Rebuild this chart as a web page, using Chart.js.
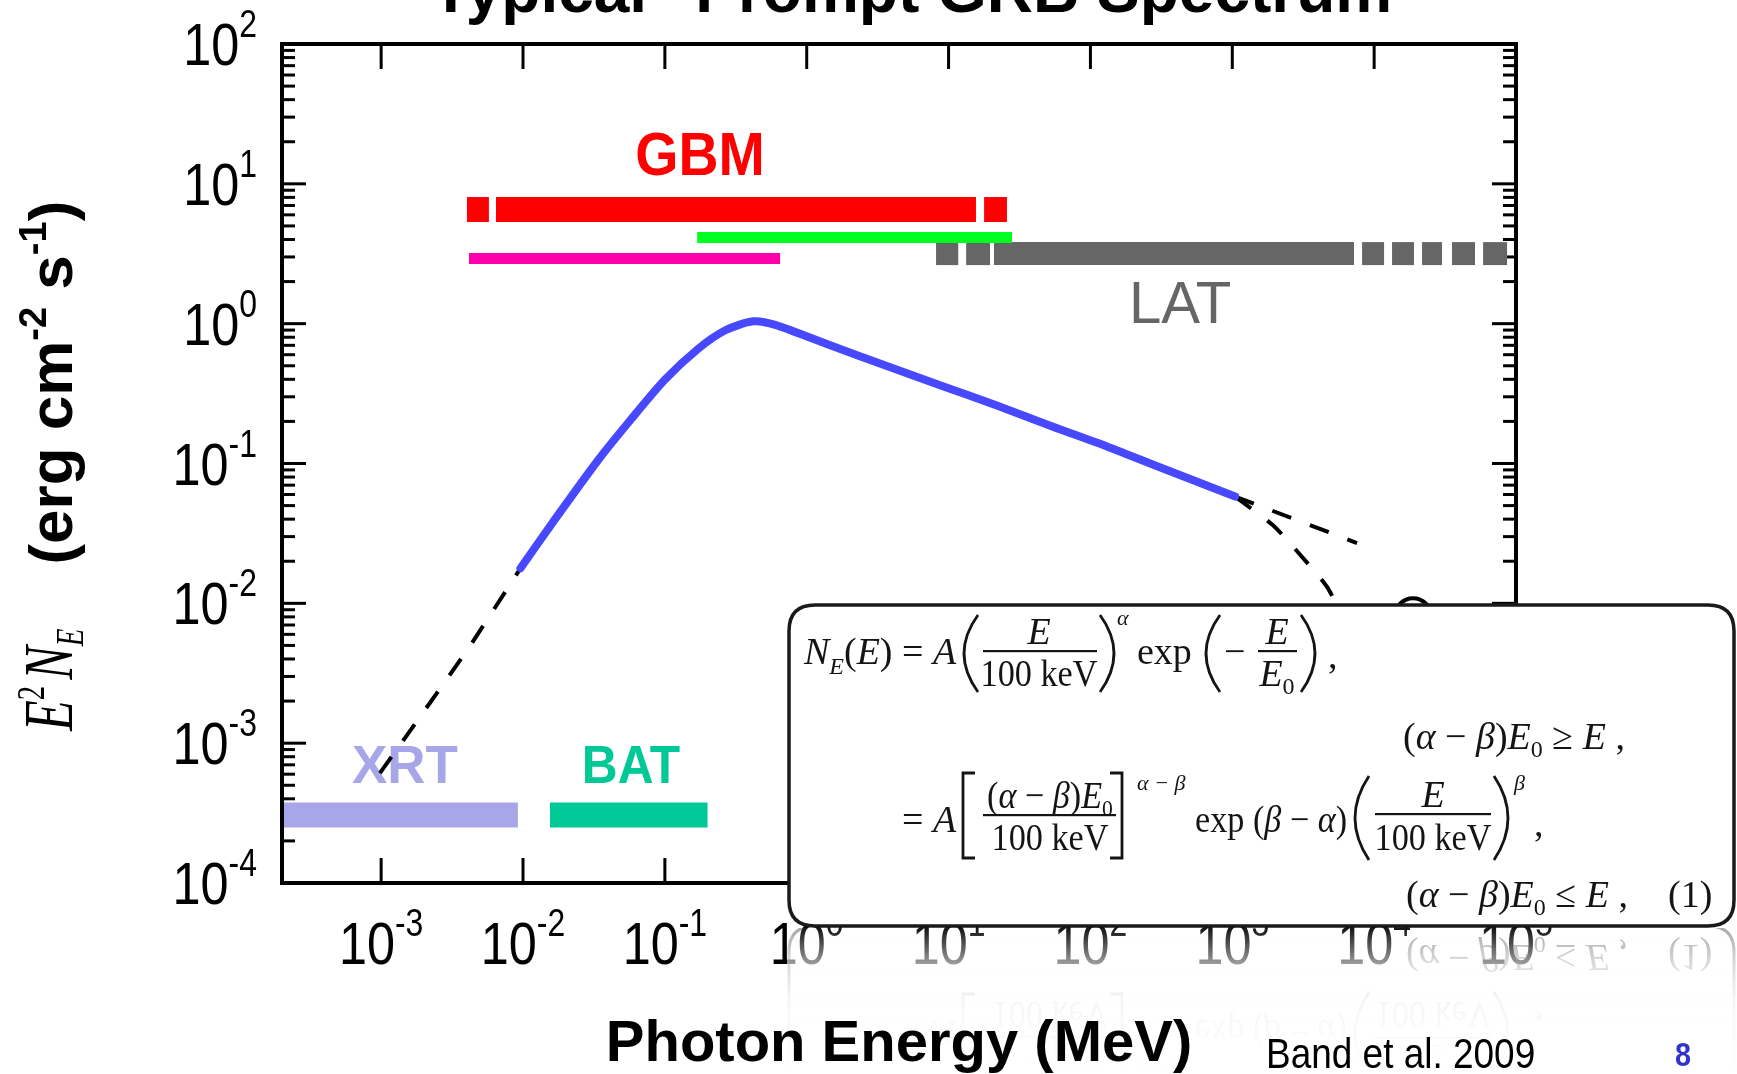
<!DOCTYPE html>
<html>
<head>
<meta charset="utf-8">
<title>Typical Prompt GRB Spectrum</title>
<script src="https://cdn.jsdelivr.net/npm/chart.js@4.4.1/dist/chart.umd.min.js"></script>
<style>
  html, body { margin: 0; padding: 0; background: #fff; overflow: hidden; }
  canvas { display: block; }
</style>
</head>
<body>
<canvas id="spectrum" width="1737" height="1074" style="width:1737px;height:1074px"></canvas>
<script>
// ---- Band-function spectrum: E^2 N_E (erg cm^-2 s^-1) vs photon energy (MeV)
const bandEnergy = [0.0096, 0.0165, 0.0339, 0.058, 0.0995, 0.171, 0.267, 0.419, 0.60, 1.48, 3.63, 8.9, 21.9, 53.8, 132, 325, 1047];
const bandFlux   = [0.0178, 0.0389, 0.106, 0.208, 0.395, 0.659, 0.897, 1.04, 0.98, 0.697, 0.50, 0.36, 0.26, 0.184, 0.132, 0.092, 0.058];

// dashed extrapolations beyond the measured band
const lowExtEnergy    = [0.00098, 0.00403, 0.0096];
const lowExtFlux      = [0.00061, 0.00462, 0.0178];
const powerExtEnergy  = [1047, 7570];
const powerExtFlux    = [0.058, 0.027];
const cutoffExtEnergy = [1047, 1937, 2904, 4656, 6300];
const cutoffExtFlux   = [0.058, 0.0362, 0.0232, 0.0131, 0.0072];
const markerEnergy    = [18800];
const markerFlux      = [0.0081];

// instrument energy coverage (MeV) and the flux level each band is drawn at
const gbmRanges = [[0.00403, 0.00575], [0.00645, 15.6], [17.8, 25.8]];
const gbmLevel  = 6.55;
const bgoRanges = [[0.169, 28.0]];
const bgoLevel  = 4.13;
const naiRanges = [[0.00416, 0.649]];
const naiLevel  = 2.93;
const latRanges = [[8.16, 11.7], [13.3, 19.6], [20.9, 7210], [8220, 11750], [13370, 19100], [21770, 30100], [35400, 51400], [58600, 86500]];
const latLevel  = 3.17;
const xrtRanges = [[2e-4, 0.0092]];
const xrtLevel  = 3.06e-4;
const batRanges = [[0.0155, 0.2]];
const batLevel  = 3.06e-4;

// axis decades
const xTickExponents = [-3, -2, -1, 0, 1, 2, 3, 4, 5];
const yTickExponents = [2, 1, 0, -1, -2, -3, -4];

// ---- helpers ---------------------------------------------------------
const pts = (xs, ys) => xs.map((x, i) => ({ x, y: ys[i] }));

function bandSets(ranges, level, color, width) {
  return ranges.map(r => ({
    data: [{ x: r[0], y: level }, { x: r[1], y: level }],
    borderColor: color, borderWidth: width, borderCapStyle: 'butt',
    pointRadius: 0, fill: false, tension: 0
  }));
}
function dashed(xs, ys) {
  return {
    data: pts(xs, ys), borderColor: '#000', borderWidth: 4, borderDash: [20, 20],
    borderCapStyle: 'butt', pointRadius: 0, fill: false, tension: 0.2
  };
}

// text piece: text, font, vertical shift, horizontal squeeze, extra advance
const P = (t, f, dy = 0, sx = 1, gap = 0) => ({ t, f, dy, sx, gap });

function runText(ctx, pieces, x, y, align = 'left') {
  let total = 0;
  for (const p of pieces) { ctx.font = p.f; total += ctx.measureText(p.t).width * p.sx + p.gap; }
  let cx = align === 'center' ? x - total / 2 : align === 'right' ? x - total : x;
  ctx.textAlign = 'left'; ctx.textBaseline = 'alphabetic';
  for (const p of pieces) {
    ctx.font = p.f;
    const w = ctx.measureText(p.t).width * p.sx;
    ctx.save(); ctx.translate(cx, y + p.dy); ctx.scale(p.sx, 1); ctx.fillText(p.t, 0, 0); ctx.restore();
    cx += w + p.gap;
  }
  return total;
}

const SANS = '"Liberation Sans", Arial, Helvetica, sans-serif';
const SERIF = '"Liberation Serif", "Times New Roman", serif';

function powerLabel(ctx, exp, x, y, align) {
  const base = P('10', '400 60px ' + SANS, 0, 0.84);
  const sup = P(String(exp), '400 38px ' + SANS, -28, 0.84);
  return runText(ctx, [base, sup], x, y, align);
}

// ---- equation panel --------------------------------------------------
const R = '38px ' + SERIF, I = 'italic 38px ' + SERIF, SUB = '24px ' + SERIF, SUP = 'italic 22px ' + SERIF;
const BOX = { x: 789, y: 605, w: 945, h: 321, r: 26 };

function boxPath(ctx) {
  const { x, y, w, h, r } = BOX;
  ctx.beginPath();
  ctx.moveTo(x + r, y); ctx.lineTo(x + w - r, y); ctx.quadraticCurveTo(x + w, y, x + w, y + r);
  ctx.lineTo(x + w, y + h - r); ctx.quadraticCurveTo(x + w, y + h, x + w - r, y + h);
  ctx.lineTo(x + r, y + h); ctx.quadraticCurveTo(x, y + h, x, y + h - r);
  ctx.lineTo(x, y + r); ctx.quadraticCurveTo(x, y, x + r, y); ctx.closePath();
}
function paren(ctx, cx, y0, y1, side) {
  ctx.beginPath(); ctx.moveTo(cx, y0);
  ctx.quadraticCurveTo(cx + side * 28, (y0 + y1) / 2, cx, y1); ctx.stroke();
}
function bracket(ctx, cx, y0, y1, side) {
  ctx.beginPath(); ctx.moveTo(cx - side * 12, y0); ctx.lineTo(cx, y0); ctx.lineTo(cx, y1); ctx.lineTo(cx - side * 12, y1); ctx.stroke();
}
function rule(ctx, x0, x1, y) { ctx.fillRect(x0, y - 1, x1 - x0, 2.2); }

function drawEquations(ctx) {
  ctx.fillStyle = '#141414'; ctx.strokeStyle = '#141414'; ctx.lineWidth = 2.8;
  const sq = 0.9;
  // N_E(E) = A (E / 100 keV)^alpha exp(-E/E0),
  runText(ctx, [P('N', I), P('E', 'italic 24px ' + SERIF, 10), P('(', R), P('E', I), P(')', R), P(' = ', R), P('A', I)], 804, 664);
  paren(ctx, 978, 615, 692, -1);
  runText(ctx, [P('E', I)], 1039, 644, 'center');
  rule(ctx, 983, 1097, 651);
  runText(ctx, [P('100 keV', R, 0, sq)], 1039, 686, 'center');
  paren(ctx, 1100, 615, 692, 1);
  runText(ctx, [P('α', SUP)], 1117, 625);
  runText(ctx, [P('exp', R)], 1137, 664);
  paren(ctx, 1220, 615, 692, -1);
  runText(ctx, [P('−', R)], 1224, 664);
  runText(ctx, [P('E', I)], 1277, 644, 'center');
  rule(ctx, 1258, 1297, 651);
  runText(ctx, [P('E', I), P('0', SUB, 8)], 1277, 686, 'center');
  paren(ctx, 1301, 615, 692, 1);
  runText(ctx, [P(',', R)], 1328, 668);
  // condition 1
  runText(ctx, [P('(', R), P('α', I), P(' − ', R), P('β', I), P(')', R), P('E', I), P('0', SUB, 8), P(' ≥ ', R), P('E', I), P(' ,', R)], 1403, 749);
  // = A [(alpha-beta)E0 / 100 keV]^(alpha-beta) exp(beta-alpha) (E/100 keV)^beta,
  runText(ctx, [P('=', R), P(' ', R), P('A', I)], 902, 832);
  bracket(ctx, 963, 773, 858, -1);
  runText(ctx, [P('(', R, 0, sq), P('α', I, 0, sq), P(' − ', R, 0, sq), P('β', I, 0, sq), P(')', R, 0, sq), P('E', I, 0, sq), P('0', SUB, 8, sq)], 1050, 808, 'center');
  rule(ctx, 983, 1116, 815);
  runText(ctx, [P('100 keV', R, 0, sq)], 1050, 850, 'center');
  bracket(ctx, 1122, 773, 858, 1);
  runText(ctx, [P('α − β', SUP)], 1137, 790);
  runText(ctx, [P('exp (', R, 0, sq), P('β', I, 0, sq), P(' − ', R, 0, sq), P('α', I, 0, sq), P(')', R, 0, sq)], 1195, 832);
  paren(ctx, 1369, 776, 860, -1);
  runText(ctx, [P('E', I)], 1433, 807, 'center');
  rule(ctx, 1375, 1491, 814);
  runText(ctx, [P('100 keV', R, 0, sq)], 1433, 850, 'center');
  paren(ctx, 1494, 776, 860, 1);
  runText(ctx, [P('β', SUP)], 1514, 790);
  runText(ctx, [P(',', R)], 1534, 836);
  // condition 2
  runText(ctx, [P('(', R), P('α', I), P(' − ', R), P('β', I), P(')', R), P('E', I), P('0', SUB, 8), P(' ≤ ', R), P('E', I), P(' ,', R)], 1406, 907);
  runText(ctx, [P('(1)', R)], 1668, 907);
}

// ---- plugin: frame, inner ticks, labels and panel ---------------------
const decorations = {
  id: 'decorations',
  beforeDatasetsDraw(chart) {
    const { ctx, chartArea: { left, right, top, bottom }, scales: { x, y } } = chart;
    ctx.save();
    ctx.strokeStyle = '#000'; ctx.lineWidth = 3; ctx.lineCap = 'butt';
    const seg = (x0, y0, x1, y1) => { ctx.beginPath(); ctx.moveTo(x0, y0); ctx.lineTo(x1, y1); ctx.stroke(); };
    for (const e of xTickExponents) {
      const px = x.getPixelForValue(Math.pow(10, e));
      if (px < left + 2 || px > right - 2) continue;
      seg(px, bottom, px, bottom - 25);
      seg(px, top, px, top + 25);
    }
    for (let d = -4; d <= 2; d++) {
      for (let m = 1; m <= 9; m++) {
        const v = m * Math.pow(10, d);
        if (v < 1e-4 * 0.999 || v > 1e2 * 1.001) continue;
        const py = y.getPixelForValue(v);
        const len = m === 1 ? 24 : 13;
        seg(left, py, left + len, py);
        seg(right, py, right - len, py);
      }
    }
    // instrument names
    const label = (t, e, f, font, color, sx) => {
      ctx.fillStyle = color;
      runText(ctx, [P(t, font, 0, sx)], x.getPixelForValue(e), y.getPixelForValue(f), 'center');
    };
    label('GBM', 0.177, 11.6, 'bold 61px ' + SANS, '#ff0000', 0.91);
    label('LAT', 429, 1.01, '400 60px ' + SANS, '#666666', 0.97);
    label('XRT', 0.00147, 5.18e-4, 'bold 54px ' + SANS, '#a6a6e8', 0.98);
    label('BAT', 0.0577, 5.18e-4, 'bold 54px ' + SANS, '#00c896', 0.92);
    ctx.restore();
  },
  afterDatasetsDraw(chart) {
    const { ctx, chartArea: { left, right, top, bottom } } = chart;
    ctx.save();
    ctx.strokeStyle = '#000'; ctx.lineWidth = 4;
    ctx.strokeRect(left, top, right - left, bottom - top);
    ctx.restore();
  },
  afterDraw(chart) {
    const { ctx, chartArea: { left, right }, scales: { x, y } } = chart;
    ctx.save();
    ctx.fillStyle = '#000';
    // tick labels
    for (const e of yTickExponents) powerLabel(ctx, e, 257, y.getPixelForValue(Math.pow(10, e)) + 21, 'right');
    for (const e of xTickExponents) powerLabel(ctx, e, x.getPixelForValue(Math.pow(10, e)), 964, 'center');

    // equation panel
    boxPath(ctx);
    ctx.fillStyle = '#fff'; ctx.fill();
    ctx.strokeStyle = '#1a1a1a'; ctx.lineWidth = 3.5; ctx.stroke();
    drawEquations(ctx);

    // mirrored reflection under the panel
    const base = BOX.y + BOX.h;
    ctx.save();
    ctx.beginPath(); ctx.rect(BOX.x - 4, base + 2, BOX.w + 10, 160); ctx.clip();
    ctx.translate(0, 2 * base); ctx.scale(1, -1);
    ctx.globalAlpha = 0.4;
    boxPath(ctx); ctx.strokeStyle = '#1a1a1a'; ctx.lineWidth = 3; ctx.stroke();
    drawEquations(ctx);
    ctx.restore();
    const g = ctx.createLinearGradient(0, base, 0, 1074);
    g.addColorStop(0, 'rgba(255,255,255,0.05)');
    g.addColorStop(0.25, 'rgba(255,255,255,0.6)');
    g.addColorStop(0.5, 'rgba(255,255,255,0.9)');
    g.addColorStop(1, 'rgba(255,255,255,1)');
    ctx.fillStyle = g; ctx.fillRect(BOX.x - 2, base + 2, 1737 - BOX.x + 2, 1074 - base);

    // axis titles
    ctx.fillStyle = '#000';
    runText(ctx, [P('Photon Energy (MeV)', 'bold 58px ' + SANS, 0, 1.0)], (left + right) / 2, 1061, 'center');
    ctx.save();
    ctx.translate(72, 731); ctx.rotate(-Math.PI / 2);
    runText(ctx, [
      P('E', 'italic 70px ' + SERIF, 0, 0.72),
      P('2', '40px ' + SERIF, -28, 0.72, 6),
      P('N', 'italic 70px ' + SERIF, 0, 0.72),
      P('E', 'italic 40px ' + SERIF, 11, 0.72, 64),
      P('(erg cm', 'bold 62px ' + SANS),
      P('-2', 'bold 38px ' + SANS, -26),
      P(' s', 'bold 62px ' + SANS),
      P('-1', 'bold 38px ' + SANS, -26),
      P(')', 'bold 62px ' + SANS)
    ], 0, 0);
    ctx.restore();

    // chart title (runs off the top edge)
    runText(ctx, [P('"Typical" Prompt GRB Spectrum', 'bold 64px ' + SANS)], 401, 12);

    // source and page number
    runText(ctx, [P('Band et al. 2009', '400 42px ' + SANS, 0, 0.88)], 1266, 1068);
    ctx.fillStyle = '#3333cc';
    runText(ctx, [P('8', 'bold 34px ' + SANS, 0, 0.85)], 1675, 1066);
    ctx.restore();
  }
};

// ---- datasets --------------------------------------------------------
const datasets = [
  { data: pts(bandEnergy, bandFlux), borderColor: '#4848ff', borderWidth: 8, borderCapStyle: 'round',
    borderJoinStyle: 'round', pointRadius: 0, fill: false, tension: 0.25 },
  dashed(lowExtEnergy, lowExtFlux),
  dashed(powerExtEnergy, powerExtFlux),
  dashed(cutoffExtEnergy, cutoffExtFlux),
  ...bandSets(bgoRanges, bgoLevel, '#00ff1e', 11),
  ...bandSets(gbmRanges, gbmLevel, '#ff0000', 25),
  ...bandSets(naiRanges, naiLevel, '#ff00aa', 11),
  ...bandSets(latRanges, latLevel, '#666666', 23),
  ...bandSets(xrtRanges, xrtLevel, '#a6a6e8', 25),
  ...bandSets(batRanges, batLevel, '#00c896', 25),
  { data: pts(markerEnergy, markerFlux), showLine: false, pointRadius: 18, pointBorderWidth: 4,
    pointBorderColor: '#000', pointBackgroundColor: 'rgba(0,0,0,0)', pointStyle: 'circle' }
];

new Chart(document.getElementById('spectrum'), {
  type: 'line',
  data: { datasets },
  options: {
    responsive: false,
    animation: false,
    devicePixelRatio: 1,
    layout: { padding: { left: 282, top: 44, right: 221, bottom: 191 } },
    plugins: { legend: { display: false }, tooltip: { enabled: false }, title: { display: false } },
    scales: {
      x: { type: 'logarithmic', min: 2e-4, max: 1e5, display: false },
      y: { type: 'logarithmic', min: 1e-4, max: 1e2, display: false }
    }
  },
  plugins: [decorations]
});
</script>
</body>
</html>
